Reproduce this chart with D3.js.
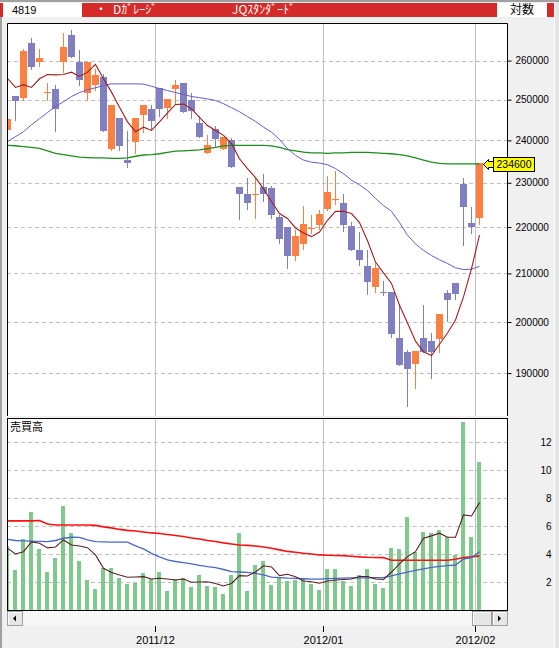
<!DOCTYPE html>
<html>
<head>
<meta charset="utf-8">
<script src="https://cdn.jsdelivr.net/npm/d3@7"></script>
<style>
  html, body { margin: 0; padding: 0; background: #f0f0f0; }
  svg { display: block; }
</style>
</head>
<body>
<div id="chart-container"></div>
<script>
// trading days shown (Nov 2011 - Feb 2012)
const dates = [
  "2011/11/02","2011/11/04","2011/11/07","2011/11/08","2011/11/09","2011/11/10","2011/11/11","2011/11/14","2011/11/15","2011/11/16",
  "2011/11/17","2011/11/18","2011/11/21","2011/11/22","2011/11/24","2011/11/25","2011/11/28","2011/11/29","2011/11/30",
  "2011/12/01","2011/12/02","2011/12/05","2011/12/06","2011/12/07","2011/12/08","2011/12/09","2011/12/12","2011/12/13","2011/12/14",
  "2011/12/15","2011/12/16","2011/12/19","2011/12/20","2011/12/21","2011/12/22","2011/12/26","2011/12/27","2011/12/28","2011/12/29","2011/12/30",
  "2012/01/04","2012/01/05","2012/01/06","2012/01/10","2012/01/11","2012/01/12","2012/01/13","2012/01/16","2012/01/17","2012/01/18",
  "2012/01/19","2012/01/20","2012/01/23","2012/01/24","2012/01/25","2012/01/26","2012/01/27","2012/01/30","2012/01/31",
  "2012/02/01"
];

const opens = [242500,251000,250400,264600,259600,251900,252800,259600,266900,259700,
  251700,253600,255700,238000,245400,235300,239500,246300,247600,252900,
  247800,252600,254100,249800,244100,236900,242800,238000,240000,229000,
  227500,227300,229000,228700,222300,220000,213600,216200,219700,220400,
  224100,226100,225400,220200,214900,211600,207100,206200,206200,196800,
  194000,191700,196800,196200,196600,205900,208000,229800,221000,222000];
const highs = [245200,251000,263100,266000,263100,254300,253600,267300,268200,262900,
  259700,257700,256600,248700,245400,242200,245500,248700,248600,252900,
  250200,254900,254100,251600,245900,241400,243600,240700,240600,229000,
  231100,231100,232100,229200,222700,220000,219300,224700,222600,223900,
  231500,232800,227500,221100,219000,214900,212100,208400,206200,203600,
  194400,194300,203500,197800,201700,206500,208000,231100,224400,234600];
const lows = [242300,244900,250000,257900,258700,249800,242200,257000,260900,253600,
  249900,252400,242200,237800,237800,233600,236900,242000,242500,246000,
  245400,249100,246900,245400,240700,236900,238400,238000,233600,221700,
  224100,222000,225800,222000,216500,211100,212900,215200,218600,219500,
  223800,225200,219200,214900,211800,205700,206200,205400,197100,191600,
  183800,187200,194100,189000,194000,200300,204700,216100,218600,220600];
const closes = [245100,249600,262600,258300,260800,252000,247700,263700,260900,255000,
  259700,256300,242200,248700,238600,234700,245500,248700,244800,247600,
  250200,253800,246900,247300,240700,238800,240300,240700,233600,227400,
  225400,227500,227400,222600,217400,213600,218000,220700,219800,222900,
  227900,226300,220400,214900,212900,208300,211200,206000,197700,191600,
  190800,194300,194100,194100,201700,204500,205700,224400,220100,234600];

// moving averages
const ma5 = [255400,253100,253800,253100,255300,256400,256300,256400,257000,255900,
  257000,259000,255300,251900,248100,244500,242100,243200,242400,244500,
  246700,248800,248900,247700,245600,243600,242400,241200,239200,235600,
  233300,231200,228600,225700,223000,221900,219800,218700,217900,218900,
  221500,223500,223500,223000,221000,217000,212400,210100,207900,203400,
  199800,196200,194100,193400,195600,197800,200400,205100,211000,218200];
const ma25 = [239700,240900,242100,243800,245300,246800,248300,249500,250800,251800,
  252500,253000,253600,254000,254000,254000,254000,253950,253400,252800,
  252300,251800,251300,250800,250500,250200,249800,249000,248000,247000,
  245800,244600,243200,242000,240200,238000,236400,235300,234800,234600,
  234200,233300,232100,230600,229500,228200,226400,224800,223500,221000,
  218200,216300,214900,213800,212900,212100,211200,210800,210900,211500];
const ma75 = [238800,238700,238500,238300,238100,237500,236900,236600,236300,236000,
  235900,235800,235800,235700,235700,235800,236200,236500,236600,236800,
  237100,237400,237500,237600,237700,238000,238300,238700,238800,238800,
  238800,238800,238800,238700,238300,237800,237500,237200,237000,237000,
  236900,237000,237000,237100,237100,237100,237000,236900,236800,236600,
  236300,235800,235300,234800,234500,234400,234400,234400,234400,234400];

// 売買高
const volumes = [4.57,2.86,5.07,7.02,4.36,2.74,3.71,7.45,5.52,3.52,
  2.17,1.52,3.0,3.0,2.29,1.86,1.95,2.64,2.19,2.74,
  1.38,2.19,2.29,1.64,2.5,1.71,1.64,1.14,2.5,5.52,
  1.38,3.21,3.52,1.79,2.26,2.07,2.14,2.26,1.86,1.43,
  2.93,2.93,2.07,1.71,2.5,2.93,1.86,1.57,4.45,4.36,
  6.64,4.17,5.57,5.5,5.71,5.21,3.93,13.43,5.21,10.57];
const volShort = [4.41,4.0,4.16,4.86,4.76,4.43,4.5,5.0,4.64,4.57,
  4.45,3.93,2.98,2.68,2.5,2.34,2.36,2.38,2.21,2.26,
  2.21,2.14,2.21,1.98,2.0,2.02,1.89,1.71,1.89,2.45,
  2.43,2.71,3.16,3.07,2.45,2.55,2.38,2.07,2.02,1.91,
  2.07,2.14,2.18,2.21,2.39,2.39,2.21,2.18,2.71,3.29,
  3.81,4.16,5.12,5.29,5.48,5.19,5.19,6.79,6.71,7.66];
const volMid = [5.05,4.96,4.93,4.91,4.89,4.88,4.96,5.12,5.19,5.18,
  5.0,4.88,4.86,4.84,4.84,4.84,4.57,4.36,4.04,3.79,
  3.57,3.46,3.38,3.29,3.18,3.09,3.02,2.89,2.74,2.71,
  2.69,2.61,2.5,2.34,2.31,2.27,2.25,2.23,2.21,2.21,
  2.24,2.26,2.27,2.29,2.29,2.29,2.3,2.31,2.43,2.57,
  2.71,2.82,2.93,3.04,3.11,3.16,3.21,3.64,3.74,4.16];
const volLong = [6.36,6.36,6.36,6.36,6.39,6.14,6.07,6.07,6.07,6.07,
  6.07,6.04,5.93,5.86,5.75,5.68,5.64,5.57,5.5,5.46,
  5.39,5.32,5.25,5.14,5.07,4.96,4.89,4.79,4.71,4.64,
  4.61,4.57,4.5,4.41,4.29,4.18,4.12,4.05,4.0,3.93,
  3.91,3.89,3.88,3.84,3.79,3.76,3.75,3.74,3.55,3.55,
  3.55,3.55,3.55,3.55,3.55,3.55,3.62,3.75,3.79,3.86];

const priceTicks = [190000, 200000, 210000, 220000, 230000, 240000, 250000, 260000];
const volumeTicks = [2, 4, 6, 8, 10, 12];
const monthStarts = ["2011/12/01", "2012/01/04", "2012/02/01"];
const monthLabels = ["2011/12", "2012/01", "2012/02"];
const lastPrice = 234600;

const width = 559;
const height = 648;
const left = 7, right = 507;
const priceTop = 23, priceBottom = 416;
const volTop = 418, volBottom = 610;
const numFont = "'Liberation Sans', Arial, sans-serif";
const jpFont = "'Noto Sans CJK JP', sans-serif";

const x = d3.scaleBand().domain(dates).range([3, 483]);
const cx = d => Math.round(x(d) + x.bandwidth() / 2);

const y = d3.scaleLog().domain([182000, 270000]).range([priceBottom, priceTop]);
const yVol = d3.scaleLinear().domain([0, 13.7]).range([volBottom, volTop]);

const svg = d3.select("#chart-container").append("svg")
    .attr("width", width)
    .attr("height", height)
    .attr("viewBox", [0, 0, width, height]);

svg.append("rect").attr("width", width).attr("height", height).attr("fill", "#f0f0f0");
svg.append("rect").attr("x", 0).attr("y", 0).attr("width", width).attr("height", 2).attr("fill", "#a0a0a0");
svg.append("rect").attr("x", 0).attr("y", 17).attr("width", 2).attr("height", height - 17).attr("fill", "#a0a0a0");
svg.append("line").attr("x1", 554.5).attr("x2", 554.5).attr("y1", 2).attr("y2", height)
    .attr("stroke", "#ffffff");
svg.append("rect").attr("x", 555).attr("y", 2).attr("width", 4).attr("height", height).attr("fill", "#e4e4e4");

// header bar
const header = svg.append("g");
header.append("rect").attr("x", 0).attr("y", 3).attr("width", 554).attr("height", 14).attr("fill", "#d42a2a");
header.append("rect").attr("x", 3).attr("y", 3).attr("width", 79).attr("height", 14).attr("fill", "#fff");
header.append("rect").attr("x", 497).attr("y", 3).attr("width", 50).attr("height", 14).attr("fill", "#fff");
header.append("text").attr("x", 12).attr("y", 14).attr("font-family", numFont).attr("font-size", 11)
    .attr("fill", "#000").text("4819");
header.append("text").attr("x", 95).attr("y", 14).attr("font-family", jpFont).attr("font-size", 12)
    .attr("fill", "#fff").text("・");
header.append("text").attr("x", 113).attr("y", 14).attr("font-family", jpFont).attr("font-size", 12)
    .attr("fill", "#fff").text("Dｶﾞﾚｰｼﾞ");
header.append("text").attr("x", 232).attr("y", 14).attr("font-family", jpFont).attr("font-size", 12)
    .attr("fill", "#fff").text("JQｽﾀﾝﾀﾞｰﾄﾞ");
header.append("text").attr("x", 510).attr("y", 14).attr("font-family", jpFont).attr("font-size", 12)
    .attr("fill", "#000").text("対数");

// panels
svg.append("rect").attr("x", left).attr("y", priceTop).attr("width", right - left).attr("height", priceBottom - priceTop)
    .attr("fill", "#fff");
svg.append("rect").attr("x", left).attr("y", volTop).attr("width", right - left).attr("height", volBottom - volTop)
    .attr("fill", "#fff");

const defs = svg.append("defs");
defs.append("clipPath").attr("id", "clip-price").append("rect")
    .attr("x", left + 1).attr("y", priceTop + 1).attr("width", right - left - 1).attr("height", priceBottom - priceTop - 1);
defs.append("clipPath").attr("id", "clip-vol").append("rect")
    .attr("x", left + 1).attr("y", volTop + 1).attr("width", right - left - 1).attr("height", volBottom - volTop - 1);

// grid
const grid = svg.append("g").attr("stroke", "#c0c0c0").attr("stroke-width", 1);
grid.selectAll(".hp").data(priceTicks).join("line")
    .attr("x1", left).attr("x2", right)
    .attr("y1", d => Math.round(y(d)) + 0.5).attr("y2", d => Math.round(y(d)) + 0.5)
    .attr("stroke-dasharray", "4,3");
grid.selectAll(".hv").data(volumeTicks).join("line")
    .attr("x1", left).attr("x2", right)
    .attr("y1", d => Math.round(yVol(d)) + 0.5).attr("y2", d => Math.round(yVol(d)) + 0.5)
    .attr("stroke-dasharray", "4,3");
monthStarts.forEach(d => {
  const gx = Math.round(x(d)) + 0.5;
  grid.append("line").attr("x1", gx).attr("x2", gx).attr("y1", priceTop).attr("y2", priceBottom);
  grid.append("line").attr("x1", gx).attr("x2", gx).attr("y1", volTop).attr("y2", volBottom);
});

// candles
const candles = dates.map((d, i) => ({date: d, open: opens[i], high: highs[i], low: lows[i], close: closes[i]}));
const colorUp = "#ff8040", colorDown = "#8080c0";
const price = svg.append("g").attr("clip-path", "url(#clip-price)");

const candle = price.selectAll("g.candle").data(candles).join("g")
    .attr("fill", d => d.close >= d.open ? colorUp : colorDown)
    .attr("stroke", d => d.close >= d.open ? colorUp : colorDown);
candle.append("line")
    .attr("x1", d => cx(d.date) + 0.5).attr("x2", d => cx(d.date) + 0.5)
    .attr("y1", d => Math.round(y(d.high))).attr("y2", d => Math.round(y(d.low)) + 1);
candle.append("rect")
    .attr("stroke", "none")
    .attr("x", d => cx(d.date) - 3)
    .attr("width", 7)
    .attr("y", d => Math.round(y(Math.max(d.open, d.close))))
    .attr("height", d => Math.max(1, Math.round(y(Math.min(d.open, d.close))) - Math.round(y(Math.max(d.open, d.close)))));

const priceLine = d3.line()
    .x((d, i) => cx(dates[i]) + 0.5)
    .y(d => y(d));
price.append("path").datum(ma75).attr("fill", "none").attr("stroke", "#1e8c1e").attr("stroke-width", 1.3).attr("d", priceLine);
price.append("path").datum(ma25).attr("fill", "none").attr("stroke", "#6a5acd").attr("stroke-width", 1).attr("d", priceLine);
price.append("path").datum(ma5).attr("fill", "none").attr("stroke", "#a01e1e").attr("stroke-width", 1.1).attr("d", priceLine);

// volume
const vol = svg.append("g").attr("clip-path", "url(#clip-vol)");
vol.selectAll("rect").data(volumes).join("rect")
    .attr("x", (d, i) => cx(dates[i]) - 2)
    .attr("width", 4)
    .attr("y", d => Math.round(yVol(d)))
    .attr("height", d => volBottom - Math.round(yVol(d)))
    .attr("fill", "#80c88c");

const volLine = d3.line()
    .x((d, i) => cx(dates[i]) + 0.5)
    .y(d => yVol(d));
vol.append("path").datum(volLong).attr("fill", "none").attr("stroke", "#ff1010").attr("stroke-width", 1.6).attr("d", volLine);
vol.append("path").datum(volMid).attr("fill", "none").attr("stroke", "#4a66c8").attr("stroke-width", 1.3).attr("d", volLine);
vol.append("path").datum(volShort).attr("fill", "none").attr("stroke", "#5a2020").attr("stroke-width", 1.1).attr("d", volLine);

svg.append("text").attr("x", 10).attr("y", 431).attr("font-family", jpFont).attr("font-size", 11)
    .attr("fill", "#000").text("売買高");

// frames
svg.append("path")
    .attr("d", `M${left + 0.5},${priceBottom}V${priceTop + 0.5}H${right + 0.5}V${priceBottom}`)
    .attr("fill", "none").attr("stroke", "#000");
svg.append("rect").attr("x", left + 0.5).attr("y", volTop + 0.5).attr("width", right - left).attr("height", volBottom - volTop)
    .attr("fill", "none").attr("stroke", "#000");

// price axis
const priceAxis = svg.append("g")
    .attr("transform", `translate(${right + 0.5},0)`)
    .call(d3.axisRight(y).tickValues(priceTicks).tickFormat(d3.format("d")).tickSize(4).tickSizeOuter(0).tickPadding(4));
priceAxis.select(".domain").remove();
priceAxis.selectAll("text").attr("font-family", numFont).attr("font-size", 10).attr("fill", "#000");
priceAxis.selectAll("line").attr("stroke", "#000");

// volume axis
const volAxis = svg.append("g")
    .attr("transform", `translate(${right + 0.5},0)`)
    .call(d3.axisRight(yVol).tickValues(volumeTicks).tickSize(0).tickPadding(4));
volAxis.select(".domain").remove();
volAxis.selectAll("text").attr("x", 44).attr("text-anchor", "end")
    .attr("font-family", numFont).attr("font-size", 10).attr("fill", "#000");

// last price marker
const ly = Math.round(y(lastPrice)) + 1;
const mx = cx(dates[dates.length - 1]) + 4;
svg.append("path")
    .attr("d", `M${mx + 0.5},${ly + 0.5}L${mx + 5.5},${ly - 4.5}V${ly - 2.5}H${mx + 10.5}V${ly + 3.5}H${mx + 5.5}V${ly + 5.5}Z`)
    .attr("fill", "#ffff00").attr("stroke", "#000");
svg.append("rect").attr("x", mx + 10.5).attr("y", ly - 6.5).attr("width", 41).attr("height", 14)
    .attr("fill", "#ffff00").attr("stroke", "#000");
svg.append("text").attr("x", mx + 31).attr("y", ly + 4).attr("text-anchor", "middle")
    .attr("font-family", numFont).attr("font-size", 10.5).attr("fill", "#000").text(lastPrice);

// scroll bar
const sb = svg.append("g");
sb.append("rect").attr("x", left).attr("y", 611).attr("width", right - left + 1).attr("height", 15).attr("fill", "#f6f6f6");
function button(bx, bw) {
  sb.append("rect").attr("x", bx + 0.5).attr("y", 611.5).attr("width", bw).attr("height", 14)
      .attr("fill", "#e6e6e6").attr("stroke", "#a0a0a0");
  sb.append("path").attr("d", `M${bx + 1.5},624.5V612.5H${bx + bw - 0.5}`).attr("fill", "none").attr("stroke", "#fff");
}
button(left, 15);
button(right - 15, 15);
button(472, 19);
sb.append("path").attr("d", `M${left + 6},618.5L${left + 9},615.5V621.5Z`).attr("fill", "#000");
sb.append("path").attr("d", `M${right - 6},618.5L${right - 9},615.5V621.5Z`).attr("fill", "#000");

// date axis
const dateAxis = svg.append("g");
monthStarts.forEach((d, i) => {
  const gx = Math.round(x(d)) + 0.5;
  dateAxis.append("line").attr("x1", gx).attr("x2", gx).attr("y1", 626).attr("y2", 632).attr("stroke", "#000");
  dateAxis.append("text").attr("x", gx).attr("y", 644).attr("text-anchor", "middle")
      .attr("font-family", numFont).attr("font-size", 11).attr("fill", "#000").text(monthLabels[i]);
});
</script>
</body>
</html>
